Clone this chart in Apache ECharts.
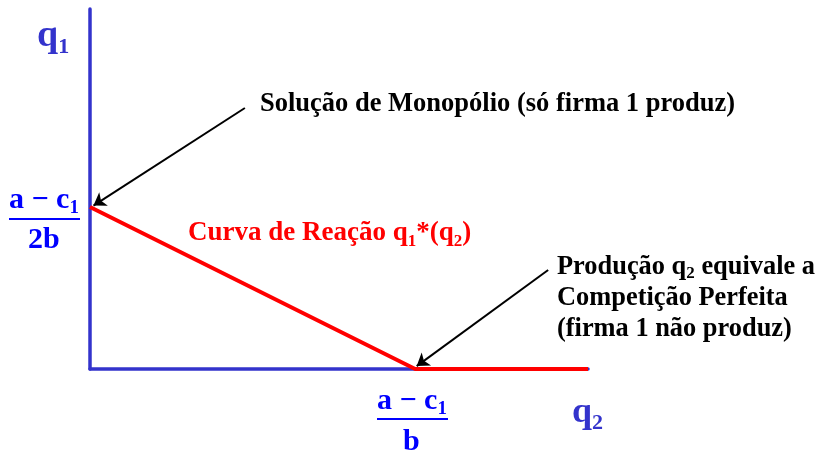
<!DOCTYPE html>
<html>
<head>
<meta charset="utf-8">
<title>Curva de Reação</title>
<script src="https://cdn.jsdelivr.net/npm/echarts@6/dist/echarts.min.js"></script>
<style>
  html, body { margin: 0; padding: 0; background: #fff; }
  #main { width: 821px; height: 453px; }
</style>
</head>
<body>
<div id="main"></div>
<script>
  // curva de reação da firma 1: [q2, q1]
  var reacaoX = [0, 65.3, 100];
  var reacaoY = [45, 0, 0];
  // setas: [inicio, fim] em coordenadas dos eixos
  var setaMonopolio = [[31.1, 72.5], [0.7, 45.4]];
  var setaCompeticao = [[92, 27.5], [65.6, 0.8]];

  var serif = '"Liberation Serif", "DejaVu Serif", serif';
  var azul = '#3333cc';

  var reacao = reacaoX.map(function(x, i) { return [x, reacaoY[i]]; });

  function seta(p) {
    return [
      { coord: p[0], symbol: 'none' },
      { coord: p[1], symbol: 'arrow' }
    ];
  }

  // estilos rich (graphic usa fill)
  var base = function(size, cor, lh) {
    return { fontSize: size, fontFamily: serif, fontWeight: 'bold', fill: cor, lineHeight: lh || size + 6 };
  };
  var sub = function(size, cor) {
    return { fontSize: size, fontFamily: serif, fontWeight: 'bold', fill: cor, lineHeight: size - 2, verticalAlign: 'bottom' };
  };

  var myChart = echarts.init(document.getElementById('main'));
  var option = {
    animation: false,
    grid: { left: 90, right: 233, top: 9, bottom: 84 },
    xAxis: {
      type: 'value', min: 0, max: 100,
      axisLine: { show: true, onZero: false, lineStyle: { color: azul, width: 3.5 } },
      axisTick: { show: false }, axisLabel: { show: false }, splitLine: { show: false }
    },
    yAxis: {
      type: 'value', min: 0, max: 100,
      axisLine: { show: true, onZero: false, lineStyle: { color: azul, width: 3.5 } },
      axisTick: { show: false }, axisLabel: { show: false }, splitLine: { show: false }
    },
    series: [{
      type: 'line',
      data: reacao,
      symbol: 'none',
      z: 5,
      lineStyle: { color: '#ff0000', width: 4 },
      markLine: {
        silent: true,
        symbolSize: 12,
        label: { show: false },
        lineStyle: { color: '#000', width: 2, type: 'solid' },
        data: [seta(setaMonopolio), seta(setaCompeticao)]
      }
    }],
    graphic: [
      // rótulos dos eixos
      { type: 'text', left: 37, top: 17, style: { text: '{q|q}{s|1}', rich: { q: base(38, azul), s: sub(22, azul) } } },
      { type: 'text', left: 572, top: 395, style: { text: '{q|q}{s|2}', rich: { q: base(36, azul), s: sub(22, azul) } } },
      // (a - c1)/2b
      { type: 'text', left: 9, top: 185, style: { text: '{n|a − c}{s|1}', rich: { n: base(30, '#0000ff'), s: sub(19, '#0000ff') } } },
      { type: 'rect', shape: { x: 9, y: 218, width: 71, height: 2 }, style: { fill: '#0000ff' } },
      { type: 'text', left: 28, top: 225, style: { text: '{n|2b}', rich: { n: base(30, '#0000ff') } } },
      // (a - c1)/b
      { type: 'text', left: 377, top: 386, style: { text: '{n|a − c}{s|1}', rich: { n: base(30, '#0000ff'), s: sub(19, '#0000ff') } } },
      { type: 'rect', shape: { x: 377, y: 418, width: 71, height: 2 }, style: { fill: '#0000ff' } },
      { type: 'text', left: 403, top: 427, style: { text: '{n|b}', rich: { n: base(30, '#0000ff') } } },
      // anotações
      { type: 'text', left: 260, top: 91, style: { text: 'Solução de Monopólio (só firma 1 produz)', font: 'bold 26.5px ' + serif, fill: '#000' } },
      { type: 'text', left: 188, top: 220, style: { text: '{t|Curva de Reação q}{s|1}{t|*(q}{s|2}{t|)}', rich: { t: base(27, '#ff0000'), s: sub(17, '#ff0000') } } },
      { type: 'text', left: 557, top: 254, style: {
          text: '{t|Produção q}{s|2}{t| equivale a}\n{t|Competição Perfeita}\n{t|(firma 1 não produz)}',
          rich: { t: base(26.4, '#000', 31), s: { fontSize: 17, fontFamily: serif, fontWeight: 'bold', fill: '#000', lineHeight: 21, verticalAlign: 'bottom' } }
        } }
    ]
  };
  myChart.setOption(option);
</script>
</body>
</html>
